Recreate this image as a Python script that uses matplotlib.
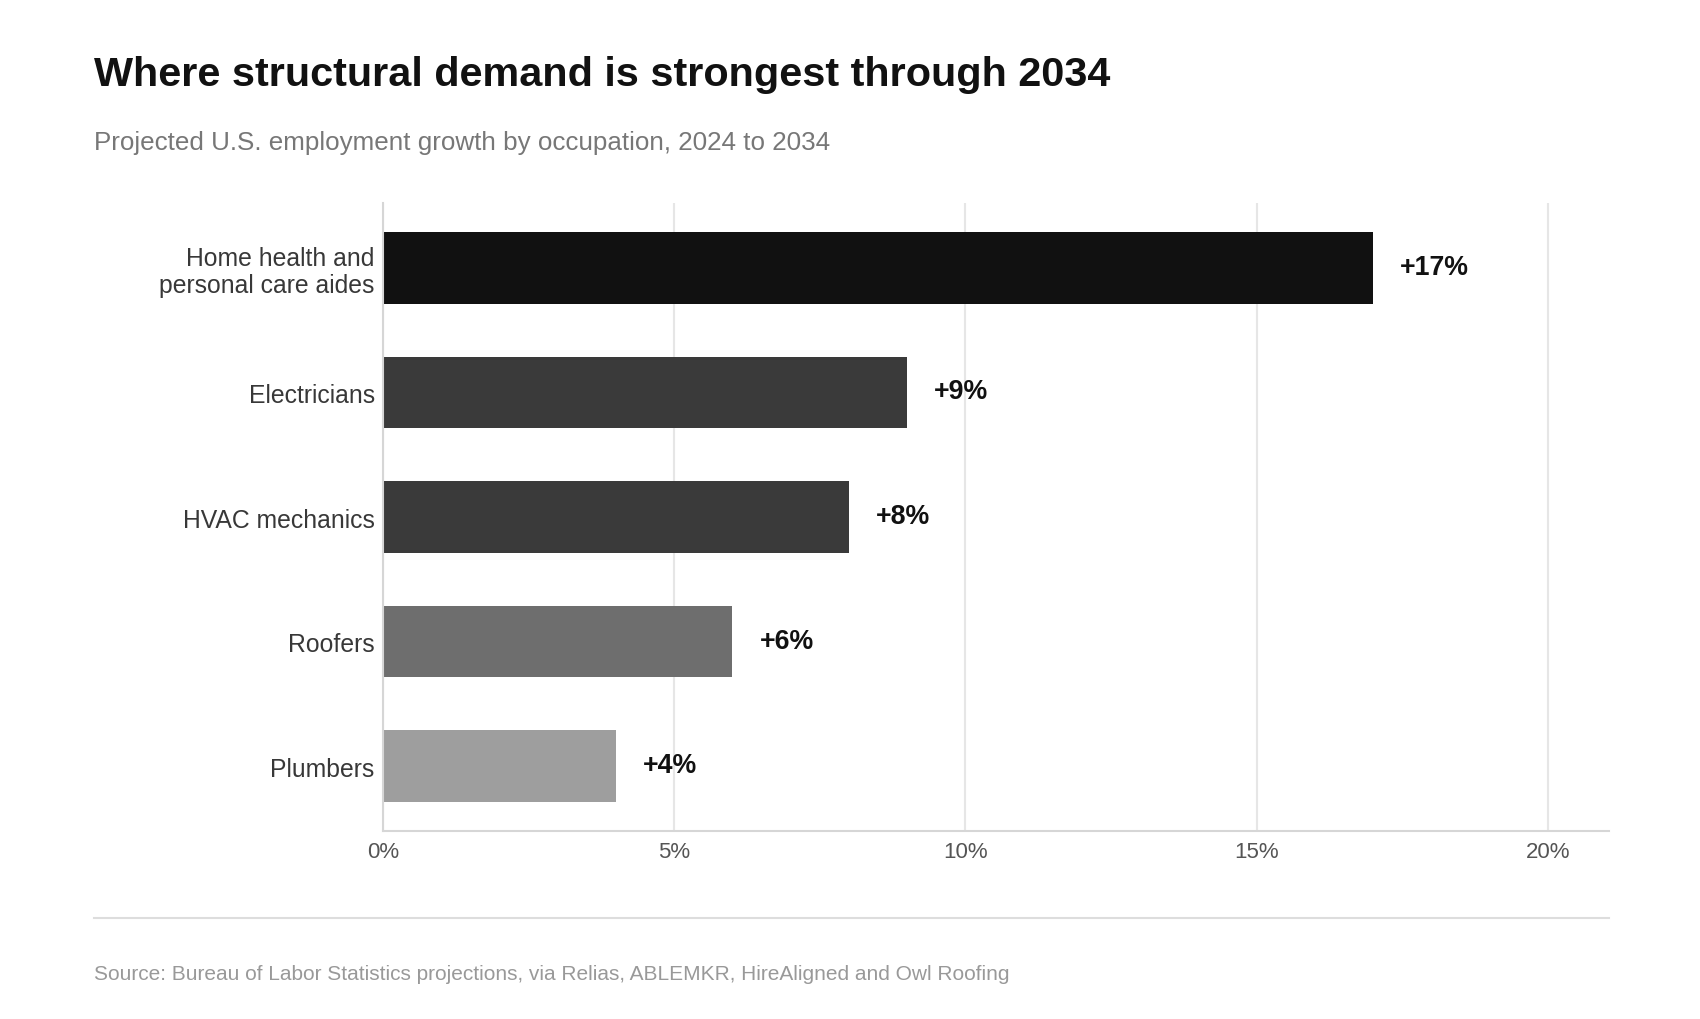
import matplotlib.pyplot as plt
from matplotlib.lines import Line2D

plt.rcParams['font.family'] = ['Liberation Sans', 'DejaVu Sans']

# data
occupations = ["Home health and\npersonal care aides", "Electricians", "HVAC mechanics", "Roofers", "Plumbers"]
growth = [17, 9, 8, 6, 4]
bar_colors = ["#111111", "#3a3a3a", "#3a3a3a", "#6e6e6e", "#9e9e9e"]
xticks = [0, 5, 10, 15, 20]
xtick_labels = ["0%", "5%", "10%", "15%", "20%"]

fig = plt.figure(figsize=(17, 10.2), dpi=100)
ax = fig.add_axes([0.2253, 0.1843, 0.7212, 0.6157])

ypos = list(range(len(occupations)))
ax.barh(ypos, growth, height=0.575, color=bar_colors, zorder=3)

for y, v in zip(ypos, growth):
    ax.annotate(f"+{v}%", xy=(v, y), xytext=(27, 1), textcoords="offset pixels",
                ha="left", va="center", fontsize=19.3, fontweight="bold", color="#111111")

ax.set_xlim(0, 21.05)
ax.set_ylim(len(occupations) - 0.48, -0.52)

ax.set_yticks(ypos)
ax.set_yticklabels(occupations, fontsize=17.8, color="#383838", linespacing=1.15)
ax.set_xticks(xticks)
ax.set_xticklabels(xtick_labels, fontsize=16, color="#555555")
ax.tick_params(axis="both", length=0)
ax.tick_params(axis="y", pad=6)
ax.tick_params(axis="x", pad=7.5)

ax.grid(axis="x", color="#e6e6e6", linewidth=1.5, zorder=0)
ax.grid(axis="y", visible=False)
for s in ["top", "right"]:
    ax.spines[s].set_visible(False)
for s in ["left", "bottom"]:
    ax.spines[s].set_color("#d6d6d6")
    ax.spines[s].set_linewidth(1.5)
    ax.spines[s].set_zorder(4)

fig.text(94 / 1700, 1 - 75 / 1020, "Where structural demand is strongest through 2034",
         fontsize=29.75, fontweight="bold", color="#111111", ha="left", va="center")
fig.text(94 / 1700, 1 - 143 / 1020, "Projected U.S. employment growth by occupation, 2024 to 2034",
         fontsize=18.7, color="#777777", ha="left", va="center")

fig.add_artist(Line2D([94 / 1700, 1609 / 1700], [1 - 919 / 1020, 1 - 919 / 1020],
                      color="#dddddd", linewidth=1.5))
fig.text(94 / 1700, 1 - 975 / 1020,
         "Source: Bureau of Labor Statistics projections, via Relias, ABLEMKR, HireAligned and Owl Roofing",
         fontsize=15.0, color="#999999", ha="left", va="center")

fig.savefig("out.png", dpi=100, facecolor="white")
